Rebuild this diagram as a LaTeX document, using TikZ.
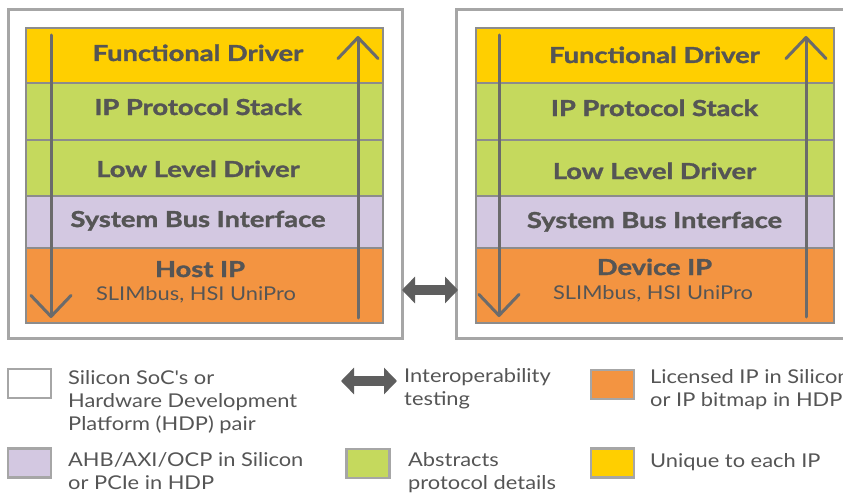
\documentclass[tikz,border=0pt]{standalone}
\usepackage{fontspec}
\setmainfont{Lato}
\newfontfamily\heavyfont{Lato}[FakeStretch=1.24, BoldFeatures={FakeBold=1.6}]
\newfontfamily\legfont{Lato}[FakeStretch=1.15]
\usetikzlibrary{arrows.meta}
\definecolor{cyellow}{HTML}{FFCF00}
\definecolor{cgreen}{HTML}{C5D95D}
\definecolor{cpurple}{HTML}{D3C8E1}
\definecolor{corange}{HTML}{F39441}
\definecolor{cframe}{HTML}{A6A6A6}
\definecolor{cedge}{HTML}{8C8C8C}
\definecolor{ctext}{HTML}{555555}
\definecolor{carrow}{HTML}{6B6B6B}
\definecolor{cinter}{HTML}{5E5E5E}
\begin{document}
\begin{tikzpicture}[x=1pt,y=-1pt,
  outerbox/.style={draw=cframe, line width=3pt, minimum width=394pt, minimum height=329pt, inner sep=0pt},
  layer/.style={draw=cedge, line width=1.3pt, inner sep=0pt, minimum width=357pt},
  boldlbl/.style={text=ctext, font=\fontsize{22}{26}\heavyfont\bfseries, anchor=base, inner sep=0pt},
  sublbl/.style={text=ctext, font=\fontsize{19}{22}\legfont, anchor=base, inner sep=0pt},
  legtext/.style={text=ctext, font=\fontsize{19}{23}\legfont, align=left, anchor=base west, inner sep=0pt},
  legsq/.style={draw=cframe, line width=2.5pt, minimum width=43pt, minimum height=29pt, inner sep=0pt},
  flow/.style={draw=carrow, line width=3pt, line cap=round, -{Straight Barb[length=21pt, width=40pt, line cap=round, line join=round]}},
  interop/.style={draw=cinter, line width=10pt, {Triangle[length=13pt,width=26pt]}-{Triangle[length=13pt,width=26pt]}}
]
\clip (0,0) rectangle (843,495);
\fill[white] (0,0) rectangle (843,495);

% ---------- left pair ----------
\node[outerbox] (lbox) at (205,174) {};
\node[layer, fill=cyellow, minimum height=55pt] (lfd) at (204.5,55.5) {};
\node[layer, fill=cgreen,  minimum height=57pt] (lps) at (204.5,111.5) {};
\node[layer, fill=cgreen,  minimum height=56pt] (lll) at (204.5,168) {};
\node[layer, fill=cpurple, minimum height=52pt] (lsb) at (204.5,222) {};
\node[layer, fill=corange, minimum height=75pt] (lip) at (204.5,285.5) {};

\node[boldlbl] (lfdt) at (198,61) {Functional Driver};
\node[boldlbl] (lpst) at (198,115) {IP Protocol Stack};
\node[boldlbl] (lllt) at (198,177) {Low Level Driver};
\node[boldlbl] (lsbt) at (198,227) {System Bus Interface};
\node[boldlbl] (lipt) at (200,277) {Host IP};
\node[sublbl] (lips) at (196,300) {SLIMbus, HSI UniPro};

\coordinate (ld1) at (51,35);
\coordinate (ld2) at (51,318);
\coordinate (lu1) at (358,318);
\coordinate (lu2) at (358,36);
\draw[flow] (ld1) -- (ld2);
\draw[flow] (lu1) -- (lu2);

% ---------- right pair ----------
\node[outerbox] (rbox) at (653,174) {};
\node[layer, fill=cyellow, minimum height=55pt, minimum width=358pt] (rfd) at (655,55.5) {};
\node[layer, fill=cgreen,  minimum height=57pt, minimum width=358pt] (rps) at (655,111.5) {};
\node[layer, fill=cgreen,  minimum height=56pt, minimum width=358pt] (rll) at (655,168) {};
\node[layer, fill=cpurple, minimum height=52pt, minimum width=358pt] (rsb) at (655,222) {};
\node[layer, fill=corange, minimum height=75pt, minimum width=358pt] (rip) at (655,285.5) {};

\node[boldlbl] (rfdt) at (654.5,63) {Functional Driver};
\node[boldlbl] (rpst) at (654.5,116) {IP Protocol Stack};
\node[boldlbl] (rllt) at (654.5,179) {Low Level Driver};
\node[boldlbl] (rsbt) at (654.5,228) {System Bus Interface};
\node[boldlbl] (ript) at (654.5,275) {Device IP};
\node[sublbl] (rips) at (653,299) {SLIMbus, HSI UniPro};

\coordinate (rd1) at (499,35);
\coordinate (rd2) at (499,317);
\coordinate (ru1) at (806,317);
\coordinate (ru2) at (806,36);
\draw[flow] (rd1) -- (rd2);
\draw[flow] (ru1) -- (ru2);

% ---------- interoperability ----------
\coordinate (ia) at (402,290);
\coordinate (ib) at (458,290);
\draw[interop] (ia) -- (ib);

% ---------- legend ----------
\node[legsq, fill=white] (sq1) at (29.5,383.5) {};
\node[legtext] (t1) at (68,430) {Silicon SoC's or\\Hardware Development\\Platform (HDP) pair};

\coordinate (la) at (341,381);
\coordinate (lb) at (397,381);
\draw[interop] (la) -- (lb);
\node[legtext] (t2) at (404,405) {Interoperability\\testing};

\node[legsq, fill=corange] (sq3) at (612.5,384.5) {};
\node[legtext] (t3) at (650,406) {Licensed IP in Silicon\\or IP bitmap in HDP};

\node[legsq, fill=cpurple] (sq4) at (29.5,463) {};
\node[legtext] (t4) at (68,489) {AHB/AXI/OCP in Silicon\\or PCIe in HDP};

\node[legsq, fill=cgreen] (sq5) at (368,463.5) {};
\node[legtext] (t5) at (408,489) {Abstracts\\protocol details};

\node[legsq, fill=cyellow] (sq6) at (612.5,463) {};
\node[legtext] (t6) at (650,467) {Unique to each IP};
\end{tikzpicture}
\end{document}
